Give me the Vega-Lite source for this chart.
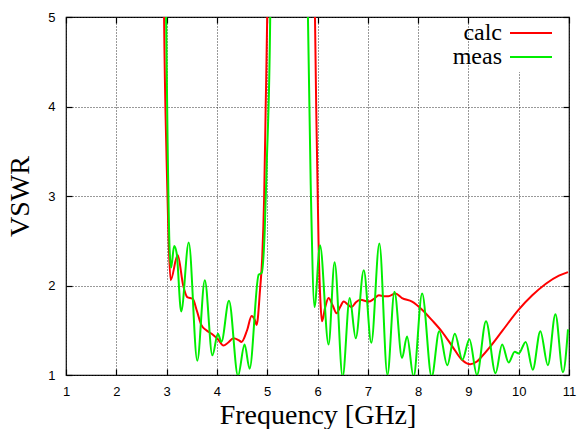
{
  "$schema": "https://vega.github.io/schema/vega-lite/v6.json",
  "width": 503,
  "height": 358,
  "autosize": {"type": "none"},
  "padding": {"left": 66, "top": 17, "right": 9, "bottom": 54},
  "background": "white",
  "config": {
    "view": {"stroke": "#000", "strokeWidth": 1.2},
    "axis": {
      "domain": false,
      "gridDash": [1, 2],
      "gridColor": "#333",
      "gridWidth": 1,
      "tickColor": "#000",
      "tickSize": -6,
      "tickWidth": 1.2,
      "labelFont": "Liberation Sans",
      "labelFontSize": 13,
      "labelColor": "#000",
      "titleFont": "Liberation Serif",
      "titleFontSize": 28,
      "titleFontWeight": "normal",
      "titleColor": "#000"
    },
    "legend": {
      "labelFont": "Liberation Serif",
      "labelFontSize": 24,
      "labelColor": "#000"
    }
  },
  "data": {
    "values": [
      {"f": 2.90, "v": 9, "s": "calc"},
      {"f": 2.95, "v": 5.0, "s": "calc"},
      {"f": 3.00, "v": 3.4, "s": "calc"},
      {"f": 3.04, "v": 2.5, "s": "calc"},
      {"f": 3.08, "v": 2.06, "s": "calc"},
      {"f": 3.22, "v": 2.34, "s": "calc"},
      {"f": 3.33, "v": 2.0, "s": "calc"},
      {"f": 3.41, "v": 1.87, "s": "calc"},
      {"f": 3.52, "v": 1.85, "s": "calc"},
      {"f": 3.60, "v": 1.72, "s": "calc"},
      {"f": 3.69, "v": 1.56, "s": "calc"},
      {"f": 3.79, "v": 1.50, "s": "calc"},
      {"f": 3.92, "v": 1.45, "s": "calc"},
      {"f": 4.02, "v": 1.40, "s": "calc"},
      {"f": 4.13, "v": 1.33, "s": "calc"},
      {"f": 4.22, "v": 1.36, "s": "calc"},
      {"f": 4.33, "v": 1.41, "s": "calc"},
      {"f": 4.43, "v": 1.39, "s": "calc"},
      {"f": 4.49, "v": 1.37, "s": "calc"},
      {"f": 4.60, "v": 1.50, "s": "calc"},
      {"f": 4.69, "v": 1.66, "s": "calc"},
      {"f": 4.75, "v": 1.62, "s": "calc"},
      {"f": 4.79, "v": 1.56, "s": "calc"},
      {"f": 4.86, "v": 1.97, "s": "calc"},
      {"f": 4.90, "v": 2.3, "s": "calc"},
      {"f": 4.94, "v": 3.0, "s": "calc"},
      {"f": 4.97, "v": 4.0, "s": "calc"},
      {"f": 5.00, "v": 5.0, "s": "calc"},
      {"f": 5.05, "v": 9, "s": "calc"},
      {"f": 5.90, "v": 9, "s": "calc"},
      {"f": 5.95, "v": 5.0, "s": "calc"},
      {"f": 5.98, "v": 3.8, "s": "calc"},
      {"f": 6.02, "v": 2.5, "s": "calc"},
      {"f": 6.06, "v": 1.8, "s": "calc"},
      {"f": 6.09, "v": 1.60, "s": "calc"},
      {"f": 6.15, "v": 1.75, "s": "calc"},
      {"f": 6.22, "v": 1.86, "s": "calc"},
      {"f": 6.30, "v": 1.78, "s": "calc"},
      {"f": 6.38, "v": 1.69, "s": "calc"},
      {"f": 6.45, "v": 1.76, "s": "calc"},
      {"f": 6.52, "v": 1.82, "s": "calc"},
      {"f": 6.60, "v": 1.79, "s": "calc"},
      {"f": 6.68, "v": 1.76, "s": "calc"},
      {"f": 6.76, "v": 1.81, "s": "calc"},
      {"f": 6.85, "v": 1.84, "s": "calc"},
      {"f": 7.02, "v": 1.82, "s": "calc"},
      {"f": 7.12, "v": 1.85, "s": "calc"},
      {"f": 7.22, "v": 1.89, "s": "calc"},
      {"f": 7.32, "v": 1.88, "s": "calc"},
      {"f": 7.41, "v": 1.88, "s": "calc"},
      {"f": 7.55, "v": 1.91, "s": "calc"},
      {"f": 7.68, "v": 1.86, "s": "calc"},
      {"f": 7.88, "v": 1.82, "s": "calc"},
      {"f": 8.08, "v": 1.73, "s": "calc"},
      {"f": 8.28, "v": 1.61, "s": "calc"},
      {"f": 8.48, "v": 1.48, "s": "calc"},
      {"f": 8.68, "v": 1.32, "s": "calc"},
      {"f": 8.87, "v": 1.17, "s": "calc"},
      {"f": 9.04, "v": 1.12, "s": "calc"},
      {"f": 9.17, "v": 1.15, "s": "calc"},
      {"f": 9.24, "v": 1.19, "s": "calc"},
      {"f": 9.41, "v": 1.30, "s": "calc"},
      {"f": 9.67, "v": 1.49, "s": "calc"},
      {"f": 10.0, "v": 1.73, "s": "calc"},
      {"f": 10.27, "v": 1.89, "s": "calc"},
      {"f": 10.54, "v": 2.02, "s": "calc"},
      {"f": 10.80, "v": 2.11, "s": "calc"},
      {"f": 10.98, "v": 2.15, "s": "calc"},
      {"f": 2.94, "v": 9, "s": "meas"},
      {"f": 2.99, "v": 5.0, "s": "meas"},
      {"f": 3.02, "v": 3.6, "s": "meas"},
      {"f": 3.06, "v": 2.4, "s": "meas"},
      {"f": 3.09, "v": 2.2, "s": "meas"},
      {"f": 3.15, "v": 2.44, "s": "meas"},
      {"f": 3.20, "v": 2.36, "s": "meas"},
      {"f": 3.29, "v": 1.71, "s": "meas"},
      {"f": 3.44, "v": 2.48, "s": "meas"},
      {"f": 3.61, "v": 1.16, "s": "meas"},
      {"f": 3.76, "v": 2.06, "s": "meas"},
      {"f": 3.91, "v": 1.22, "s": "meas"},
      {"f": 4.02, "v": 1.46, "s": "meas"},
      {"f": 4.09, "v": 1.37, "s": "meas"},
      {"f": 4.24, "v": 1.83, "s": "meas"},
      {"f": 4.42, "v": 0.99, "s": "meas"},
      {"f": 4.55, "v": 1.34, "s": "meas"},
      {"f": 4.65, "v": 1.07, "s": "meas"},
      {"f": 4.83, "v": 2.12, "s": "meas"},
      {"f": 4.89, "v": 2.14, "s": "meas"},
      {"f": 4.95, "v": 2.6, "s": "meas"},
      {"f": 4.99, "v": 3.34, "s": "meas"},
      {"f": 5.06, "v": 5.0, "s": "meas"},
      {"f": 5.12, "v": 9, "s": "meas"},
      {"f": 5.75, "v": 9, "s": "meas"},
      {"f": 5.81, "v": 5.0, "s": "meas"},
      {"f": 5.87, "v": 3.0, "s": "meas"},
      {"f": 5.94, "v": 1.76, "s": "meas"},
      {"f": 6.05, "v": 2.45, "s": "meas"},
      {"f": 6.22, "v": 1.34, "s": "meas"},
      {"f": 6.34, "v": 2.26, "s": "meas"},
      {"f": 6.50, "v": 0.98, "s": "meas"},
      {"f": 6.64, "v": 1.86, "s": "meas"},
      {"f": 6.76, "v": 1.41, "s": "meas"},
      {"f": 6.92, "v": 2.17, "s": "meas"},
      {"f": 7.07, "v": 1.36, "s": "meas"},
      {"f": 7.23, "v": 2.47, "s": "meas"},
      {"f": 7.39, "v": 1.0, "s": "meas"},
      {"f": 7.53, "v": 1.93, "s": "meas"},
      {"f": 7.68, "v": 1.19, "s": "meas"},
      {"f": 7.78, "v": 1.43, "s": "meas"},
      {"f": 7.91, "v": 0.98, "s": "meas"},
      {"f": 8.08, "v": 1.91, "s": "meas"},
      {"f": 8.27, "v": 0.98, "s": "meas"},
      {"f": 8.42, "v": 1.49, "s": "meas"},
      {"f": 8.58, "v": 1.11, "s": "meas"},
      {"f": 8.73, "v": 1.46, "s": "meas"},
      {"f": 8.88, "v": 1.17, "s": "meas"},
      {"f": 9.02, "v": 1.40, "s": "meas"},
      {"f": 9.17, "v": 1.0, "s": "meas"},
      {"f": 9.35, "v": 1.60, "s": "meas"},
      {"f": 9.54, "v": 1.02, "s": "meas"},
      {"f": 9.67, "v": 1.34, "s": "meas"},
      {"f": 9.80, "v": 1.14, "s": "meas"},
      {"f": 9.92, "v": 1.26, "s": "meas"},
      {"f": 10.0, "v": 1.24, "s": "meas"},
      {"f": 10.14, "v": 1.37, "s": "meas"},
      {"f": 10.28, "v": 1.06, "s": "meas"},
      {"f": 10.43, "v": 1.49, "s": "meas"},
      {"f": 10.58, "v": 1.11, "s": "meas"},
      {"f": 10.73, "v": 1.68, "s": "meas"},
      {"f": 10.88, "v": 1.03, "s": "meas"},
      {"f": 10.98, "v": 1.51, "s": "meas"}
    ]
  },
  "layer": [
    {
      "mark": {"type": "line", "clip": true, "interpolate": "monotone", "strokeWidth": 2},
      "encoding": {
        "x": {
          "field": "f", "type": "quantitative",
          "scale": {"domain": [1, 11], "nice": false, "zero": false},
          "axis": {"orient": "bottom", "title": "Frequency [GHz]", "titleFont": "Liberation Serif", "titleFontSize": 28, "titleFontWeight": "normal", "values": [1,2,3,4,5,6,7,8,9,10,11], "grid": true, "labelPadding": 16, "titlePadding": 3, "labelFlush": false}
        },
        "y": {
          "field": "v", "type": "quantitative",
          "scale": {"domain": [1, 5], "nice": false, "zero": false},
          "axis": {"orient": "left", "title": "VSWR", "titleFont": "Liberation Serif", "titleFontSize": 28, "titleFontWeight": "normal", "values": [1,2,3,4,5], "grid": true, "labelPadding": 17, "titlePadding": 13, "labelFlush": false}
        },
        "color": {
          "field": "s", "type": "nominal",
          "scale": {"domain": ["calc", "meas"], "range": ["#ff0000", "#00ee00"]},
          "legend": {
            "title": null,
            "orient": "none",
            "legendX": 450,
            "legendY": 1,
            "symbolType": "M-2,0L2,0",
            "symbolSize": 441,
            "symbolStrokeWidth": 2,
            "labelAlign": "right",
            "labelOffset": -41,
            "rowPadding": -3,
            "padding": 3,
            "fillColor": "white"
          }
        }
      }
    },
    {
      "mark": {"type": "line", "opacity": 0, "clip": true},
      "encoding": {
        "x": {"field": "f", "type": "quantitative", "axis": {"orient": "top", "title": null, "labels": false, "grid": false, "values": [1,2,3,4,5,6,7,8,9,10,11]}},
        "y": {"field": "v", "type": "quantitative", "axis": {"orient": "right", "title": null, "labels": false, "grid": false, "values": [1,2,3,4,5]}},
        "detail": {"field": "s", "type": "nominal"}
      }
    }
  ]
}
